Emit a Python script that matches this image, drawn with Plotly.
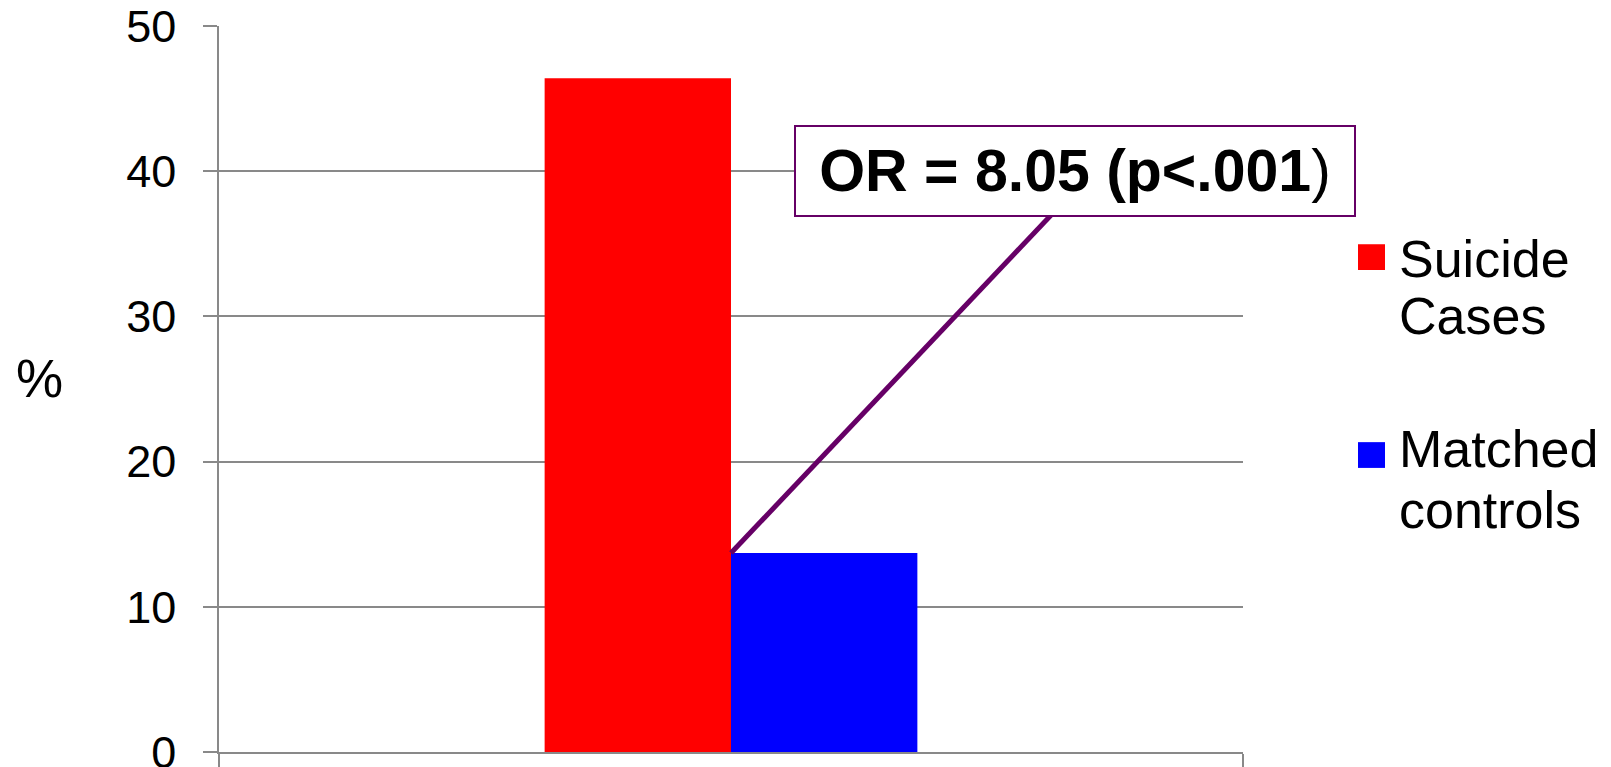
import plotly.graph_objects as go

# ---- data ----
categories = [""]
series_names = ["Suicide Cases", "Matched controls"]
series_colors = ["#FF0000", "#0000FF"]
suicide_cases = [46.4]
matched_controls = [13.7]
y_ticks = [0, 10, 20, 30, 40, 50]
y_title = "%"
annotation_text = "<b>OR = 8.05 (p<.001</b>)"

FONT = "Liberation Sans, Arial, sans-serif"
GRID = "#898989"

fig = go.Figure()
for name, color, vals in zip(series_names, series_colors, [suicide_cases, matched_controls]):
    fig.add_trace(go.Bar(x=categories, y=vals, name=name, marker_color=color,
                         marker_line_width=0, showlegend=False))

fig.update_layout(
    width=1611, height=767,
    margin=dict(l=219, r=368, t=26, b=15, autoexpand=False),
    paper_bgcolor="white", plot_bgcolor="white",
    barmode="group", bargap=0.636, bargroupgap=0,
    font=dict(family=FONT, color="black"),
)
fig.update_xaxes(type="category", showticklabels=False, showline=True, linecolor=GRID,
                 linewidth=1.5, ticks="outside", tickson="boundaries", ticklen=14,
                 tickcolor=GRID, tickwidth=1.5, showgrid=False, zeroline=False,
                 range=[-0.5, 0.5], automargin=False)
fig.update_yaxes(range=[0, 50], tickvals=y_ticks, showline=True, linecolor=GRID,
                 linewidth=1.5, ticks="outside", ticklen=14, tickcolor=GRID,
                 tickwidth=1.5, showgrid=True, gridcolor=GRID, gridwidth=1.5,
                 zeroline=False, tickfont=dict(size=45, family=FONT),
                 ticklabelstandoff=18, ticklabeloverflow="allow", automargin=False)

# horizontal y-axis title
fig.add_annotation(x=-0.175, y=0.514, xref="paper", yref="paper", text=y_title,
                   showarrow=False, xanchor="center", yanchor="middle",
                   font=dict(size=53, family=FONT, color="black"))

# connector line from the controls bar to the OR box
box_x, box_y = 0.336, 40.0
fig.add_shape(type="line", xref="x", yref="y", x0=0, y0=matched_controls[0],
              x1=0.333, y1=38.5, line=dict(color="#660066", width=5), layer="above")
fig.add_annotation(x=box_x, y=box_y, xref="x", yref="y", text=annotation_text,
                   showarrow=False, font=dict(size=59, family=FONT, color="black"),
                   bgcolor="white", bordercolor="#660066", borderwidth=2,
                   width=556, height=86, borderpad=1, align="center")

# legend (drawn manually to match symbol size and line spacing)
legend_rows = [(0.6994, [0.6788, 0.6003]), (0.4268, [0.4172, 0.3335])]
for name, color, (sq_top, line_ys) in zip(series_names, series_colors, legend_rows):
    fig.add_shape(type="rect", xref="paper", yref="paper", x0=1.1123, x1=1.1387,
                  y0=sq_top - 0.0355, y1=sq_top, fillcolor=color, line_width=0)
    for word, ly in zip(name.split(" "), line_ys):
        fig.add_annotation(x=1.1504, y=ly, xref="paper", yref="paper", text=word,
                           showarrow=False, xanchor="left", yanchor="middle",
                           font=dict(size=52, family=FONT, color="black"))

fig.write_html("out.html")
